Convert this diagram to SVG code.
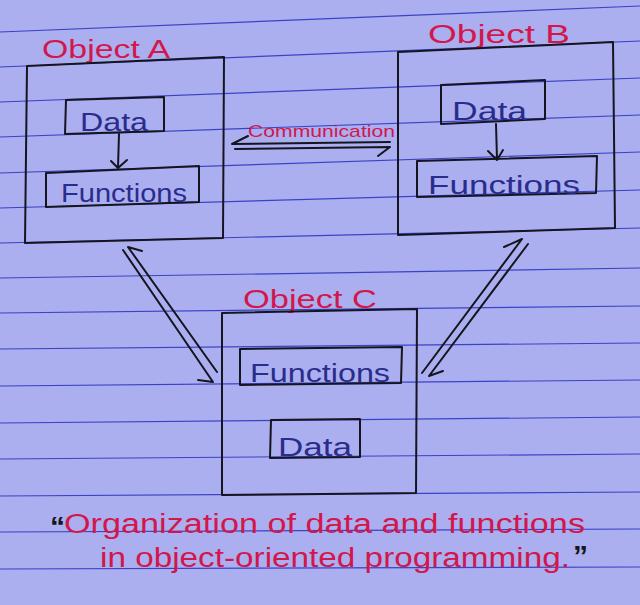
<svg xmlns="http://www.w3.org/2000/svg" width="640" height="605" viewBox="0 0 640 605">
<style>
.rule{stroke:#3b42c4;stroke-width:1.2;fill:none}
.box{fill:none;stroke:#15151f;stroke-width:2;stroke-linejoin:round}
.ink{fill:none;stroke:#15151f;stroke-width:2;stroke-linecap:round;stroke-linejoin:round}
.title{font-family:"Liberation Sans",Arial,sans-serif;font-size:25px;fill:#d2174c}
.lbl{font-family:"Liberation Sans",Arial,sans-serif;font-size:25px;fill:#2a2c8c}
.comm{font-family:"Liberation Sans",Arial,sans-serif;font-size:17px;fill:#d2174c}
.cap{font-family:"Liberation Sans",Arial,sans-serif;font-size:27px;fill:#d2174c}
.q{font-family:"Liberation Sans",Arial,sans-serif;font-size:30px;font-weight:bold;fill:#15151f}
</style>
<rect width="640" height="605" fill="#abafef"/>
<g id="paper">
<line class="rule" x1="0" y1="32" x2="640" y2="6"/>
<line class="rule" x1="0" y1="67" x2="640" y2="41"/>
<line class="rule" x1="0" y1="102" x2="640" y2="78"/>
<line class="rule" x1="0" y1="137" x2="640" y2="115"/>
<line class="rule" x1="0" y1="173" x2="640" y2="152"/>
<line class="rule" x1="0" y1="208" x2="640" y2="190"/>
<line class="rule" x1="0" y1="243" x2="640" y2="228"/>
<line class="rule" x1="0" y1="278" x2="640" y2="268"/>
<line class="rule" x1="0" y1="313" x2="640" y2="306"/>
<line class="rule" x1="0" y1="349" x2="640" y2="343"/>
<line class="rule" x1="0" y1="386" x2="640" y2="380"/>
<line class="rule" x1="0" y1="423" x2="640" y2="417"/>
<line class="rule" x1="0" y1="459" x2="640" y2="454"/>
<line class="rule" x1="0" y1="496" x2="640" y2="492"/>
<line class="rule" x1="0" y1="532" x2="640" y2="529"/>
<line class="rule" x1="0" y1="569" x2="640" y2="567"/>
</g>
<g id="objectA">
<text class="title" x="42" y="58" textLength="128" lengthAdjust="spacingAndGlyphs">Object A</text>
<polygon class="box" points="27,66 224,57 223,238 25,243"/>
<polygon class="box" points="66,100 164,97 164,131 65,134"/>
<text class="lbl" x="80" y="131" textLength="68" lengthAdjust="spacingAndGlyphs">Data</text>
<polygon class="box" points="46,173 199,166 199,202 46,207"/>
<text class="lbl" x="61" y="202" textLength="126" lengthAdjust="spacingAndGlyphs">Functions</text>
</g>
<g id="objectB">
<text class="title" x="428" y="43" textLength="142" lengthAdjust="spacingAndGlyphs">Object B</text>
<polygon class="box" points="398,52 613,42 615,228 398,235"/>
<polygon class="box" points="441,85 545,80 545,119 441,124"/>
<text class="lbl" x="452" y="120" textLength="75" lengthAdjust="spacingAndGlyphs">Data</text>
<polygon class="box" points="417,161 597,156 596,193 417,197"/>
<text class="lbl" x="428" y="194" textLength="152" lengthAdjust="spacingAndGlyphs">Functions</text>
</g>
<g id="objectC">
<text class="title" x="243" y="308" textLength="134" lengthAdjust="spacingAndGlyphs">Object C</text>
<polygon class="box" points="222,313 417,309 416,493 222,495"/>
<polygon class="box" points="240,349 402,347 401,383 240,385"/>
<text class="lbl" x="250" y="382" textLength="140" lengthAdjust="spacingAndGlyphs">Functions</text>
<polygon class="box" points="271,420 360,419 360,457 270,458"/>
<text class="lbl" x="278" y="456" textLength="74" lengthAdjust="spacingAndGlyphs">Data</text>
</g>
<g id="connectors">
<path class="ink" d="M119,134 L118,167 M111,161 L118,168 L127,160"/>
<path class="ink" d="M496,124 L497,159 M488,151 L497,160 L503,150"/>
<text class="comm" x="248" y="137" textLength="147" lengthAdjust="spacingAndGlyphs">Communication</text>
<path class="ink" d="M390,142 L232,144 L248,136"/>
<path class="ink" d="M235,149 L390,147 L378,156"/>
<path class="ink" d="M217,372 L128,247 L142,251"/>
<path class="ink" d="M123,250 L213,382 L198,380"/>
<path class="ink" d="M422,373 L522,239 L504,247"/>
<path class="ink" d="M528,244 L429,376 L443,371"/>
</g>
<g id="caption">
<text class="q" x="50" y="537">“</text>
<text class="cap" x="64" y="533" textLength="521" lengthAdjust="spacingAndGlyphs">Organization of data and functions</text>
<text class="cap" x="100" y="567" textLength="470" lengthAdjust="spacingAndGlyphs">in object-oriented programming.</text>
<text class="q" x="573" y="566">”</text>
</g>
</svg>
